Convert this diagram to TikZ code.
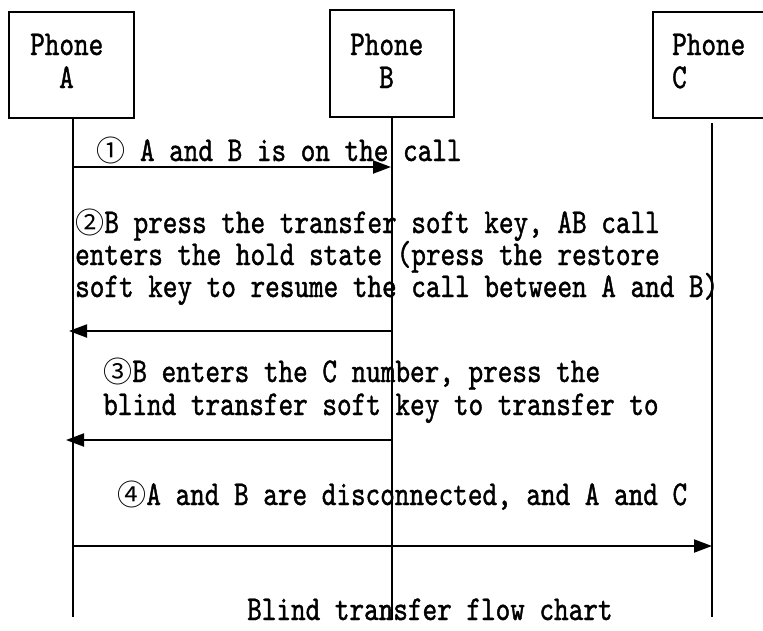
\documentclass[tikz,border=0pt]{standalone}
\usepackage{fontspec}
\usetikzlibrary{arrows.meta}
\newfontfamily\monofnt[Extension=.otf,FakeStretch=0.80,FakeBold=1.2]{lmmono10-regular}
\newfontfamily\circfnt{Noto Sans CJK SC}
\newcommand{\cnum}[1]{\makebox[29.2pt][l]{{\fontsize{29}{29}\circfnt #1}}}
\tikzset{
  txt/.style={font={\fontsize{34.8}{36}\monofnt}, inner sep=0pt, anchor=base west},
  boxnode/.style={draw, line width=2pt, inner sep=0pt, anchor=north west, minimum height=106pt},
  life/.style={line width=2pt},
  msg/.style={line width=2pt, -{Triangle[length=18pt,width=13pt]}}
}
\begin{document}
\begin{tikzpicture}[x=1pt,y=-1pt]
\useasboundingbox (0,0) rectangle (763,630);
\clip (0,0) rectangle (763,630);
% boxes
\node[boxnode, minimum width=125pt] (boxA) at (8,11) {};
\node[boxnode, minimum width=124pt, minimum height=107pt] (boxB) at (329,9) {};
\node[boxnode, minimum width=124pt] (boxC) at (652,11) {};
\node[txt] (pA1) at (30,55) {Phone};
\node[txt] (pA2) at (59,88) {A};
\node[txt] (pB1) at (350,55) {Phone};
\node[txt] (pB2) at (379,88) {B};
\node[txt] (pC1) at (672,55) {Phone};
\node[txt] (pC2) at (672,88) {C};
% lifelines
\coordinate (aTop) at (73,117);
\coordinate (aBot) at (73,617);
\coordinate (bTop) at (392,116);
\coordinate (bBot) at (392,620);
\coordinate (cTop) at (712,123);
\coordinate (cBot) at (712,617);
\draw[life] (aTop) -- (aBot);
\draw[life] (bTop) -- (bBot);
\draw[life] (cTop) -- (cBot);
% message end points
\coordinate (m1s) at (73,167);
\coordinate (m1e) at (391,167);
\coordinate (m2s) at (391,331);
\coordinate (m2e) at (69,331);
\coordinate (m3s) at (392,440);
\coordinate (m3e) at (66,440);
\coordinate (m4s) at (73,546);
\coordinate (m4e) at (712,546);
\draw[msg] (m1s) -- (m1e);
\draw[msg] (m2s) -- (m2e);
\draw[msg] (m3s) -- (m3e);
\draw[msg] (m4s) -- (m4e);
% labels
\node[txt] (t1) at (96,161) {\cnum{①} A and B is on the call};
\node[txt] (t2) at (75,233) {\cnum{②}B press the transfer soft key, AB call};
\node[txt] (t3) at (75,265) {enters the hold state (press the restore};
\node[txt] (t4) at (75,297) {soft key to resume the call between A and B)};
\node[txt] (t5) at (103,382) {\cnum{③}B enters the C number, press the};
\node[txt] (t6) at (103,415) {blind transfer soft key to transfer to};
\node[txt] (t7) at (117,505) {\cnum{④}A and B are disconnected, and A and C};
\node[txt] (cap) at (247,620) {Blind transfer flow chart};
\end{tikzpicture}
\end{document}
